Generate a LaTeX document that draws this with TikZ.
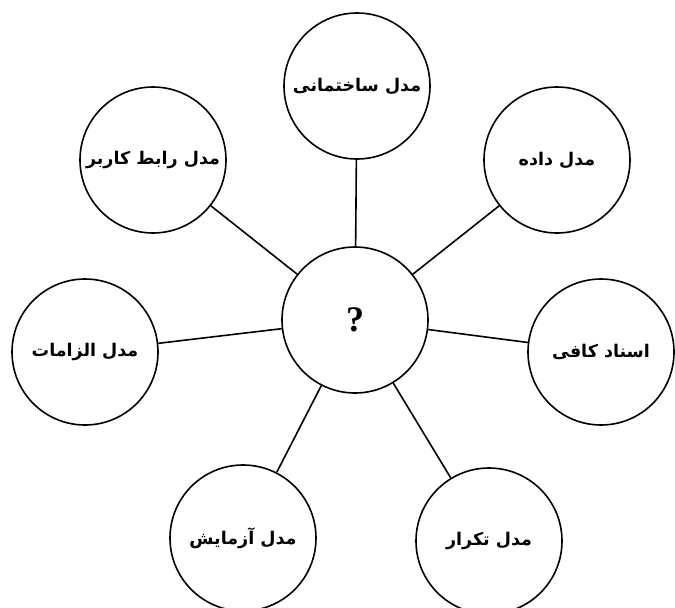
\documentclass[tikz,border=0pt]{standalone}
\usepackage{fontspec}
\newfontfamily\farsi[Script=Arabic]{DejaVu Sans}
\newfontfamily\qfont{Liberation Serif}
\TeXXeTstate=1
\usetikzlibrary{positioning}
\tikzstyle{hub} = [circle, draw=black, line width=1.6pt, minimum size=146pt, inner sep=0pt, font=\qfont\fontsize{36}{38}\selectfont\bfseries]
\tikzstyle{model} = [circle, draw=black, line width=1.6pt, minimum size=146pt, inner sep=0pt, font=\farsi\fontsize{17.5}{20}\selectfont\bfseries]
\tikzstyle{link} = [line width=1.6pt]
\newcommand{\fa}[1]{\beginR #1\endR}

\begin{document}
\begin{tikzpicture}[x=1pt, y=-1pt]
\useasboundingbox (0,0) rectangle (675,608);

% Centro
\node (hub) [hub] at (355,320) {?};

% Modelos ao redor
\node (sakhtemani) [model] at (357,86) {\fa{مدل ساختمانی}};
\node (dadeh) [model] at (557,160) {\fa{مدل داده}};
\node (asnad) [model] at (601,352) {\fa{اسناد کافی}};
\node (tekrar) [model] at (489,541) {\fa{مدل تکرار}};
\node (azmayesh) [model] at (243,538) {\fa{مدل آزمایش}};
\node (elzamat) [model] at (85,352) {\fa{مدل الزامات}};
\node (rabet) [model] at (153,160) {\fa{مدل رابط کاربر}};

% Conexões
\draw [link] (hub) -- (sakhtemani);
\draw [link] (hub) -- (dadeh);
\draw [link] (hub) -- (asnad);
\draw [link] (hub) -- (tekrar);
\draw [link] (hub) -- (azmayesh);
\draw [link] (hub) -- (elzamat);
\draw [link] (hub) -- (rabet);

\end{tikzpicture}
\end{document}
